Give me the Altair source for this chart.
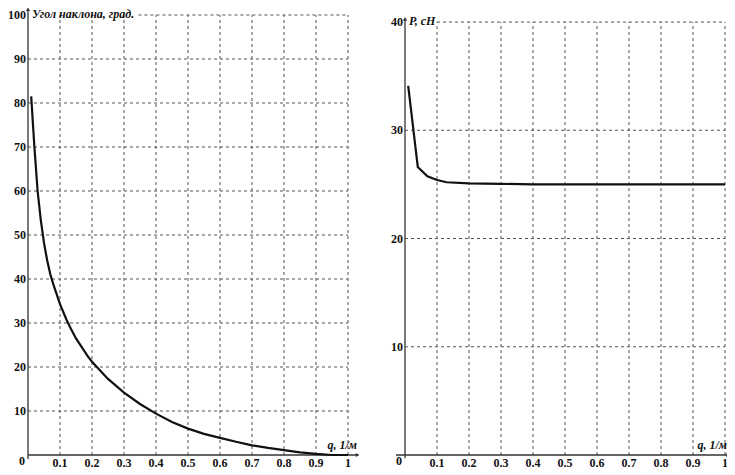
import altair as alt
import pandas as pd

# ---- data ----
q_angle = [0.01, 0.02, 0.03, 0.04, 0.05, 0.06, 0.07, 0.08, 0.10, 0.12, 0.134, 0.15, 0.187, 0.2,
           0.25, 0.3, 0.35, 0.4, 0.45, 0.5, 0.55, 0.6, 0.65, 0.7, 0.75, 0.8, 0.85, 0.9, 0.95, 1.0]
angle = [81.5, 70.0, 60.0, 53.4, 48.2, 44.2, 41.0, 38.6, 34.3, 30.8, 28.7, 26.5, 22.4, 21.2,
         17.3, 14.2, 11.6, 9.4, 7.5, 6.0, 4.8, 3.9, 3.0, 2.2, 1.6, 1.1, 0.6, 0.25, 0.0, 0.0]

q_force = [0.01, 0.04, 0.07, 0.10, 0.13, 0.2, 0.3, 0.4, 0.5, 0.6, 0.7, 0.8, 0.9, 1.0]
force = [34.1, 26.6, 25.75, 25.4, 25.2, 25.1, 25.05, 25.0, 25.0, 25.0, 25.0, 25.0, 25.0, 25.0]

x_ticks = [0.1, 0.2, 0.3, 0.4, 0.5, 0.6, 0.7, 0.8, 0.9, 1.0]
x_tick_labels = ["0.1", "0.2", "0.3", "0.4", "0.5", "0.6", "0.7", "0.8", "0.9", "1"]
angle_ticks = [10, 20, 30, 40, 50, 60, 70, 80, 90, 100]
force_ticks = [10, 20, 30, 40]

angle_title = "Угол наклона, град."
force_title = "P, cH"
x_title = "q, 1/м"

FONT = "Liberation Serif"
GRID = "#555555"
AXC = "#333333"
TXT = "#111111"


def panel(qs, vals, yticks, ytop, ydom, top_grid_start, y_title, ax_lo, ax_hi, ay_lo, ay_hi, xt_dx):
    xs = alt.Scale(domain=[0, 1], nice=False, zero=False)
    ys = alt.Scale(domain=[0, ydom], nice=False, zero=False)

    curve_df = pd.DataFrame({"q": qs, "v": vals})
    vgrid_df = pd.DataFrame({"t": x_ticks, "lab": x_tick_labels})
    hgrid_df = pd.DataFrame({"t": yticks,
                             "lab": [str(t) for t in yticks],
                             "s": [top_grid_start if t == ytop else 0 for t in yticks]})
    one = pd.DataFrame({"k": [0]})

    vgrid = alt.Chart(vgrid_df).mark_rule(color=GRID, strokeWidth=1, strokeDash=[3, 3]).encode(
        x=alt.X("t:Q", scale=xs, axis=None),
        y=alt.YDatum(0, scale=ys, axis=None),
        y2=alt.Y2Datum(ytop),
    )
    hgrid = alt.Chart(hgrid_df).mark_rule(color=GRID, strokeWidth=1, strokeDash=[3, 3]).encode(
        y=alt.Y("t:Q", scale=ys, axis=None),
        x=alt.X("s:Q", scale=xs, axis=None),
        x2=alt.X2Datum(1),
    )
    xaxis = alt.Chart(one).mark_rule(color=AXC, strokeWidth=1.3).encode(
        x=alt.XDatum(ax_lo, scale=xs, axis=None), x2=alt.X2Datum(ax_hi),
        y=alt.YDatum(0, scale=ys, axis=None),
    )
    yaxis = alt.Chart(one).mark_rule(color=AXC, strokeWidth=1.3).encode(
        y=alt.YDatum(ay_lo, scale=ys, axis=None), y2=alt.Y2Datum(ay_hi),
        x=alt.XDatum(0, scale=xs, axis=None),
    )
    arr_x = alt.Chart(one).mark_point(shape="triangle-right", filled=True, color=AXC, size=18, opacity=1).encode(
        x=alt.XDatum(ax_hi, scale=xs, axis=None), y=alt.YDatum(0, scale=ys, axis=None))
    arr_y = alt.Chart(one).mark_point(shape="triangle-up", filled=True, color=AXC, size=18, opacity=1).encode(
        x=alt.XDatum(0, scale=xs, axis=None), y=alt.YDatum(ay_hi, scale=ys, axis=None))

    line = alt.Chart(curve_df).mark_line(color="#111111", strokeWidth=2.2).encode(
        x=alt.X("q:Q", scale=xs, axis=None),
        y=alt.Y("v:Q", scale=ys, axis=None),
    )

    xlabels = alt.Chart(vgrid_df).mark_text(font=FONT, fontWeight="bold", fontSize=12, align="center",
                                            baseline="top", dy=3, color=TXT).encode(
        x=alt.X("t:Q", scale=xs, axis=None), y=alt.YDatum(0, scale=ys, axis=None), text="lab:N")
    ylabels = alt.Chart(hgrid_df).mark_text(font=FONT, fontWeight="bold", fontSize=12, align="right",
                                            baseline="middle", dx=-2, color=TXT).encode(
        x=alt.XDatum(0, scale=xs, axis=None), y=alt.Y("t:Q", scale=ys, axis=None), text="lab:N")

    ytitle = alt.Chart(one).mark_text(text=y_title, font=FONT, fontStyle="italic", fontWeight="bold",
                                      fontSize=12, align="left", baseline="middle", dx=4, dy=-1,
                                      color=TXT).encode(
        x=alt.XDatum(0, scale=xs, axis=None), y=alt.YDatum(ytop, scale=ys, axis=None))
    xtitle = alt.Chart(one).mark_text(text=x_title, font=FONT, fontStyle="italic", fontWeight="bold",
                                      fontSize=12, align="right", baseline="alphabetic", dx=xt_dx, dy=-6,
                                      color=TXT).encode(
        x=alt.XDatum(1, scale=xs, axis=None), y=alt.YDatum(0, scale=ys, axis=None))
    zero = alt.Chart(one).mark_text(text="0", font=FONT, fontWeight="bold", fontSize=12,
                                    align="right", baseline="top", dx=-3, dy=1,
                                    color=TXT).encode(
        x=alt.XDatum(0, scale=xs, axis=None), y=alt.YDatum(0, scale=ys, axis=None))

    return alt.layer(vgrid, hgrid, xaxis, yaxis, arr_x, arr_y, line,
                     xlabels, ylabels, ytitle, xtitle, zero).properties(width=320, height=440)


left = panel(q_angle, angle, angle_ticks, 100, 100, 0.345, angle_title, 0.0, 1.03, -0.9, 101.3, 9)
right = panel(q_force, force, force_ticks, 40, 40.65, 0.1, force_title, -0.028, 1.01, -0.3, 40.3, 2)

chart = alt.hconcat(left, right, spacing=57, bounds="flush").properties(
    autosize=alt.AutoSizeParams(type="none"),
    padding={"left": 20, "top": 7, "right": 699, "bottom": 452},
    background="white",
).configure_view(stroke=None)

chart.save("out.html", embed_options={"renderer": "svg", "actions": False})
